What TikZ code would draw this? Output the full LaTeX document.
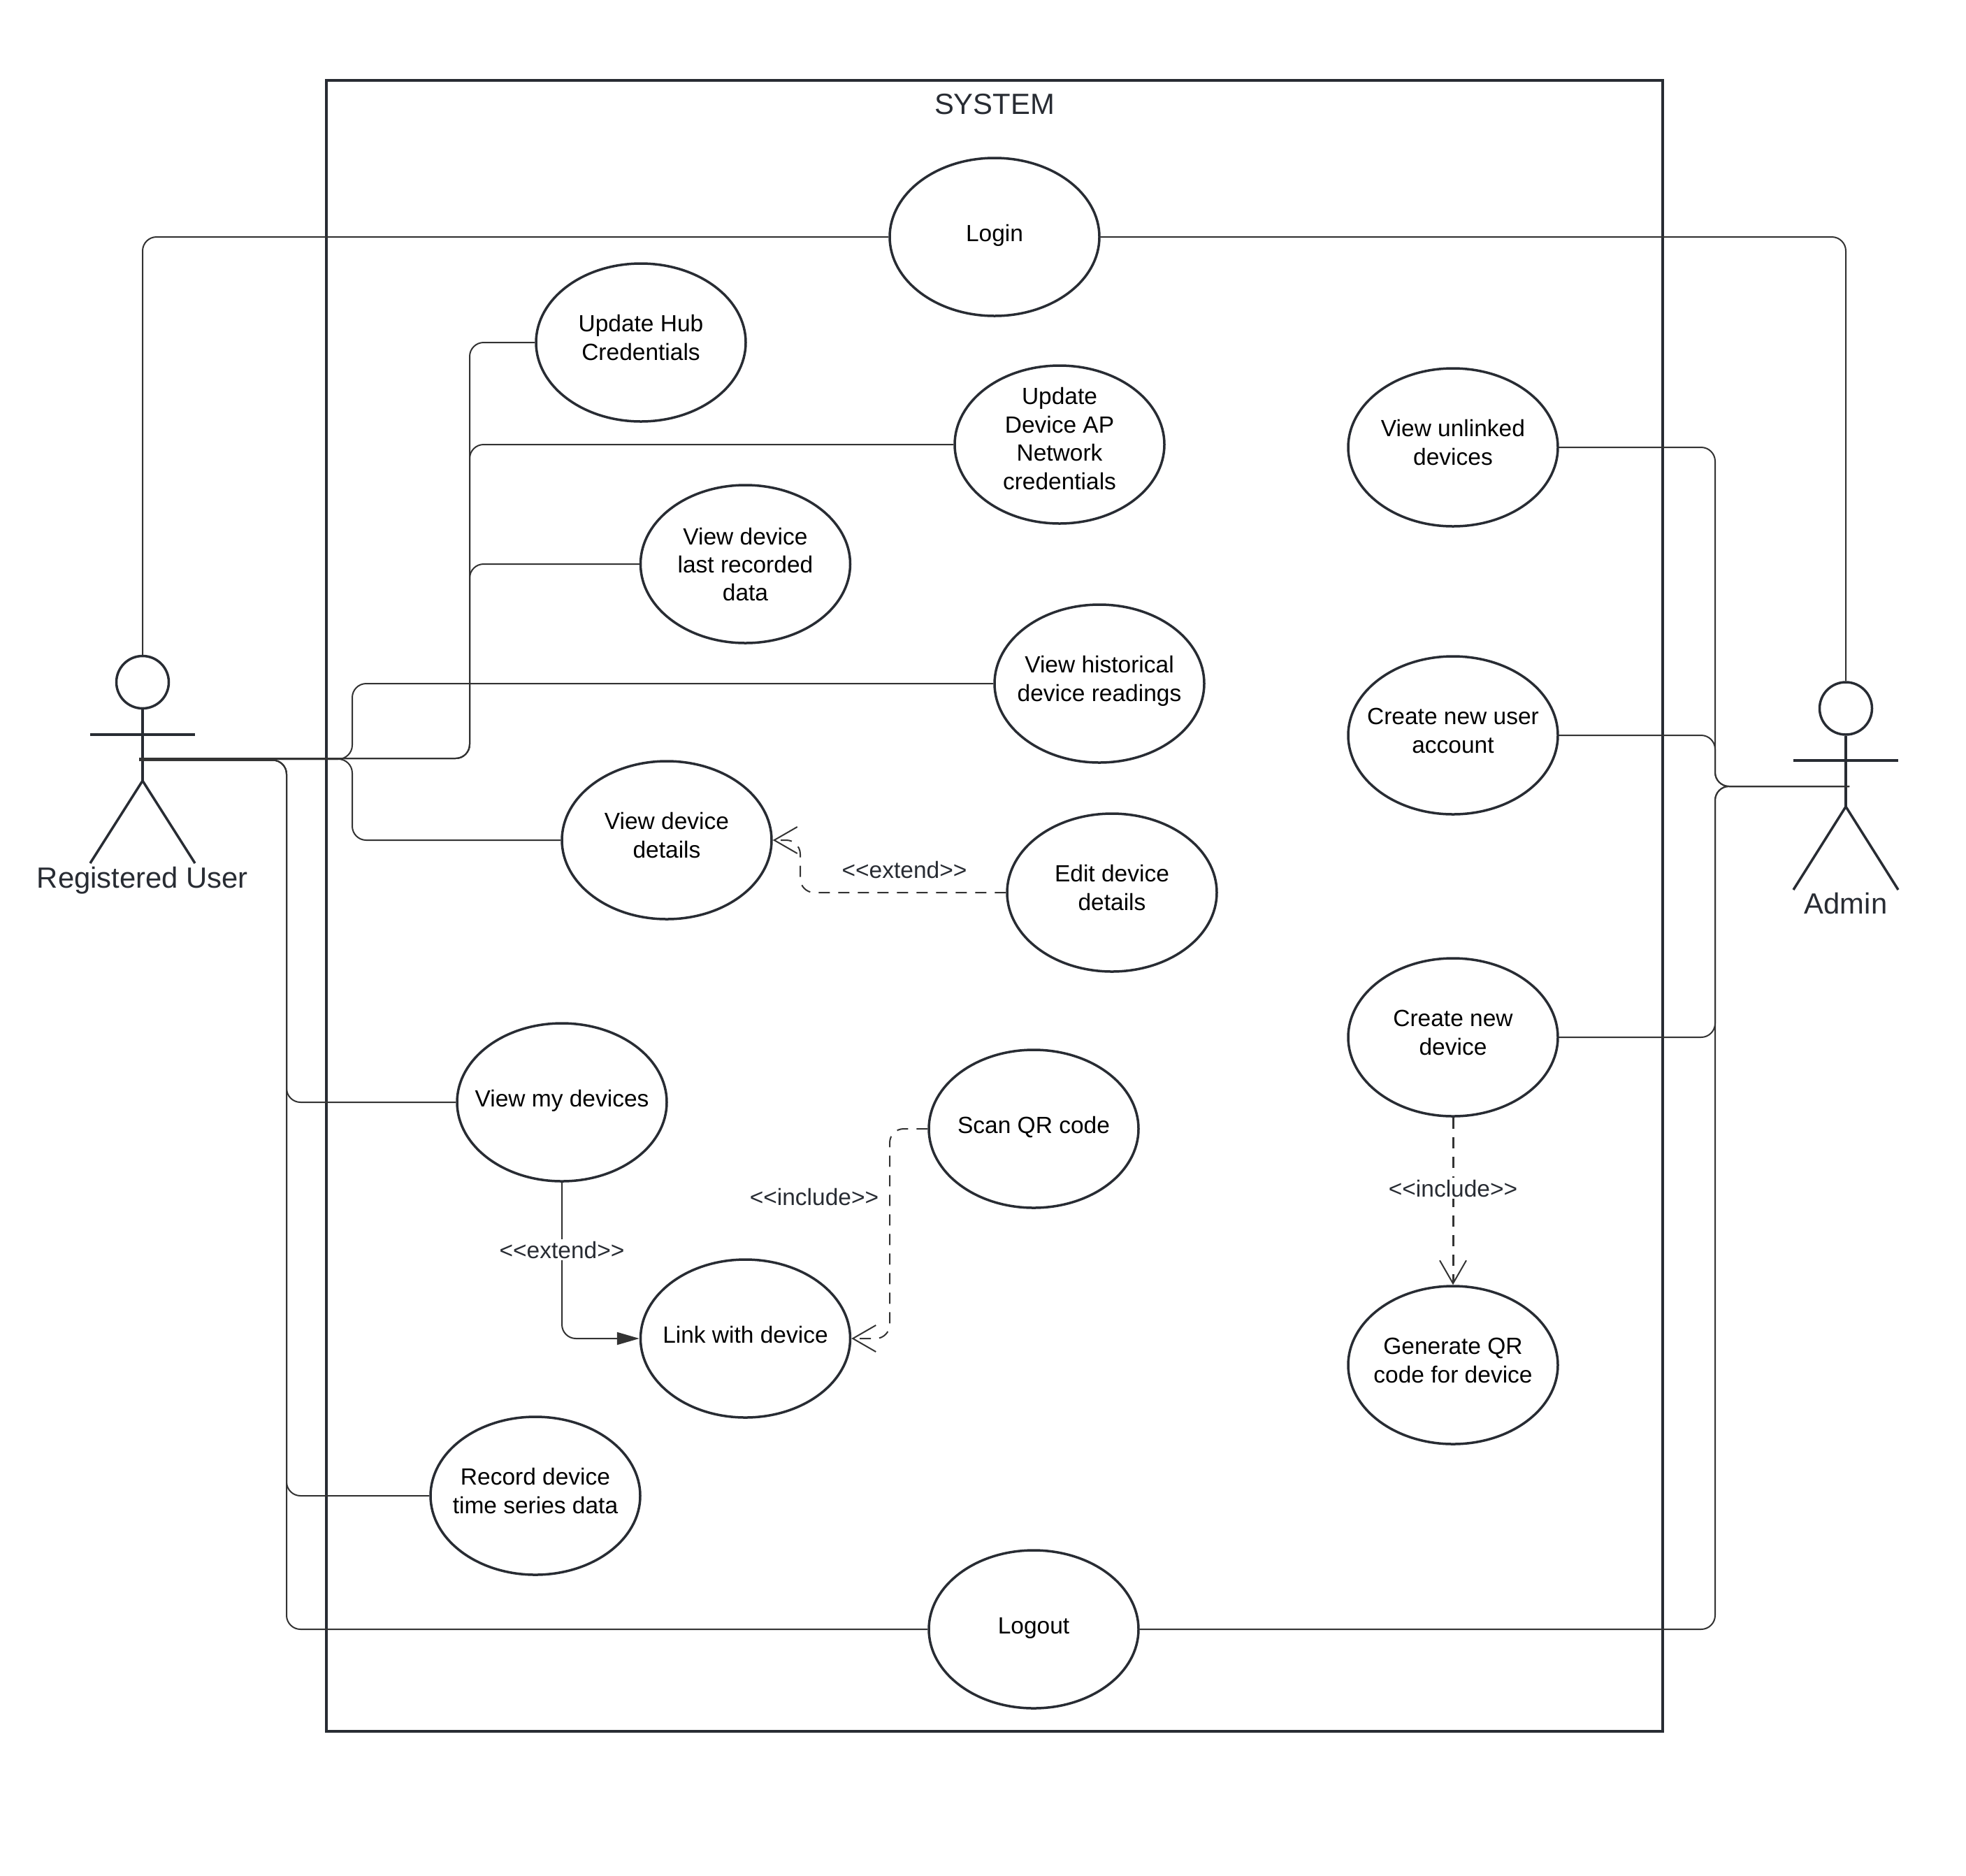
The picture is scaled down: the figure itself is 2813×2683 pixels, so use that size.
\documentclass[tikz,border=0pt]{standalone}
\usepackage{fontspec}
\setmainfont{Liberation Sans}
\usetikzlibrary{shapes.geometric,arrows.meta}
\definecolor{ink}{HTML}{282C33}
\definecolor{wire}{HTML}{333333}
\newcommand{\uctext}[2][5.4]{\makebox[0pt]{\raisebox{\dimexpr#1pt-8.4pt\relax}[0pt][0pt]{\begin{tabular}{@{}c@{}}#2\end{tabular}}}}
\tikzset{
  usecase/.style={ellipse,draw=ink,line width=3.5pt,fill=white,minimum width=300pt,minimum height=226pt,inner sep=0pt,text=black,font=\fontsize{33.5}{40.4}\selectfont},
  wirel/.style={draw=wire,line width=2pt,rounded corners=20pt},
  dashl/.style={wirel,dash pattern=on 16pt off 12pt},
  barb/.style={-{Straight Barb[length=33pt,width=38pt,line width=2pt]}},
  solidtip/.style={-{Triangle[length=32pt,width=18pt]}},
  stereo/.style={text=ink,font=\fontsize{33.5}{40}\selectfont,inner sep=3pt},
  actorname/.style={text=ink,font=\fontsize{41.8}{48}\selectfont,inner sep=0pt},
  limb/.style={draw=ink,line width=3.5pt},
  headc/.style={circle,draw=ink,line width=3.5pt,minimum size=75pt,inner sep=0pt}
}
\begin{document}
\begin{tikzpicture}[x=1pt,y=-1pt]
\useasboundingbox (0,0) rectangle (2813,2683);
\fill[white] (0,0) rectangle (2813,2683);
% system boundary
\draw[draw=ink,line width=4pt] (467,115) rectangle (2379,2477);
\node[actorname] (system) at (1423,149) {SYSTEM};
% use cases
\node[usecase] (login) at (1423,339) {\uctext[3.8]{Login}};
\node[usecase] (hub) at (917,490) {\uctext{Update Hub\\Credentials}};
\node[usecase] (ap) at (1516,636) {\uctext[6.7]{Update\\Device AP\\Network\\credentials}};
\node[usecase] (last) at (1066.5,807) {\uctext[-2.2]{View device\\last recorded\\data}};
\node[usecase] (hist) at (1573,978) {\uctext{View historical\\device readings}};
\node[usecase] (details) at (954,1202) {\uctext{View device\\details}};
\node[usecase] (edit) at (1591,1277) {\uctext{Edit device\\details}};
\node[usecase] (mydev) at (804,1577) {\uctext[3.8]{View my devices}};
\node[usecase] (scan) at (1479,1615) {\uctext[4.2]{Scan QR code}};
\node[usecase] (link) at (1066.5,1915) {\uctext[3.8]{Link with device}};
\node[usecase] (record) at (766,2140) {\uctext{Record device\\time series data}};
\node[usecase] (logout) at (1479,2331) {\uctext[3.8]{Logout}};
\node[usecase] (unlinked) at (2079,640) {\uctext{View unlinked\\devices}};
\node[usecase] (newuser) at (2079,1052) {\uctext{Create new user\\account}};
\node[usecase] (newdev) at (2079,1484) {\uctext{Create new\\device}};
\node[usecase] (genqr) at (2079,1953) {\uctext{Generate QR\\code for device}};
% registered user actor
\node[headc] (ruhead) at (204,976) {};
\coordinate (ruhip) at (204,1117);
\coordinate (rul) at (129,1235);
\coordinate (rur) at (279,1235);
\coordinate (ruarml) at (129,1051);
\coordinate (ruarmr) at (279,1051);
\draw[limb] (ruhead.south) -- (ruhip);
\draw[limb] (ruarml) -- (ruarmr);
\draw[limb] (rul) -- (ruhip) -- (rur);
\node[actorname] (runame) at (204,1260) {Registered User};
% admin actor
\node[headc] (adhead) at (2641,1013.5) {};
\coordinate (adhip) at (2641,1154);
\coordinate (adl) at (2566,1273);
\coordinate (adr) at (2716,1273);
\coordinate (adarml) at (2566,1088);
\coordinate (adarmr) at (2716,1088);
\draw[limb] (adhead.south) -- (adhip);
\draw[limb] (adarml) -- (adarmr);
\draw[limb] (adl) -- (adhip) -- (adr);
\node[actorname] (adname) at (2641,1293) {Admin};
% attachment points and buses
\coordinate (rua) at (199,1085);
\coordinate (rub) at (199,1086);
\coordinate (ruc) at (199,1087.5);
\coordinate (ad) at (2646,1125);
\coordinate (ubus) at (672,1085);
\coordinate (mbus) at (504,1086);
\coordinate (lbus) at (410,1087.5);
\coordinate (abus) at (2454,1125);
% registered user connectors
\draw[wirel] (ruhead.north) |- (login.west);
\draw[wirel] (rua) -- (ubus) |- (hub.west);
\draw[wirel] (rua) -- (ubus) |- (ap.west);
\draw[wirel] (rua) -- (ubus) |- (last.west);
\draw[wirel] (rub) -- (mbus) |- (hist.west);
\draw[wirel] (rub) -- (mbus) |- (details.west);
\draw[wirel] (ruc) -- (lbus) |- (mydev.west);
\draw[wirel] (ruc) -- (lbus) |- (record.west);
\draw[wirel] (ruc) -- (lbus) |- (logout.west);
% admin connectors
\draw[wirel] (login.east) -| (adhead.north);
\draw[wirel] (ad) -- (abus) |- (unlinked.east);
\draw[wirel] (ad) -- (abus) |- (newuser.east);
\draw[wirel] (ad) -- (abus) |- (newdev.east);
\draw[wirel] (ad) -- (abus) |- (logout.east);
% stereotyped relations
\coordinate (extx) at (1145,1277);
\draw[dashl,barb] (edit.west) -- (extx) |- (details.east);
\node[stereo] (extlab) at (1294,1245) {<{}<extend>{}>};
\coordinate (incx) at (1273,1615);
\draw[dashl,barb] (scan.west) -- (incx) |- (link.east);
\node[stereo] (inclab) at (1165,1713) {<{}<include>{}>};
\draw[wirel,solidtip] (mydev.south) |- (link.west);
\node[stereo,fill=white] (extlab2) at (804,1788) {<{}<extend>{}>};
\draw[dashl,line width=3pt,-{Straight Barb[length=33pt,width=38pt,line width=2pt]}] (newdev.south) -- (genqr.north);
\node[stereo,fill=white] (inclab2) at (2079,1700) {<{}<include>{}>};
\end{tikzpicture}
\end{document}
